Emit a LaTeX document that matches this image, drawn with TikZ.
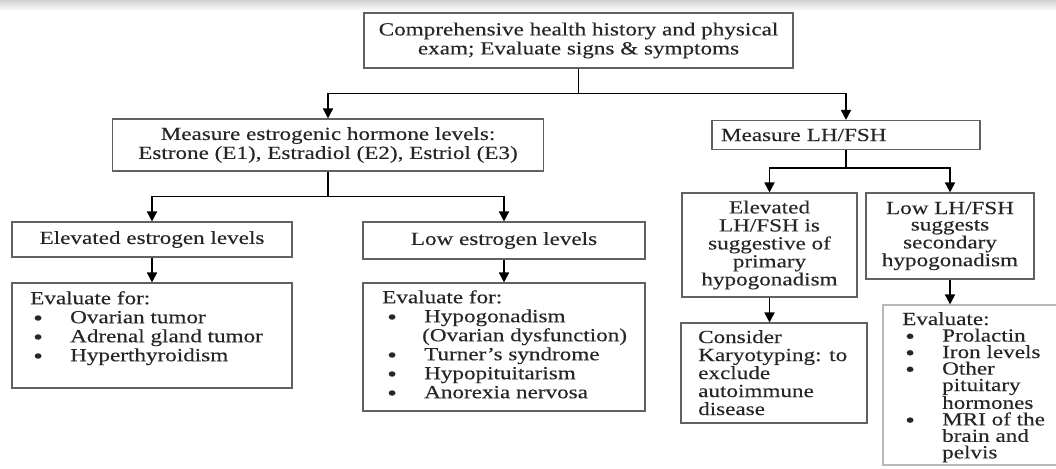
\documentclass[tikz,border=0pt]{standalone}
\usepackage{fontspec}
\setmainfont{Liberation Serif}[FakeStretch=1.25,FakeBold=0.25]
\usetikzlibrary{arrows.meta,calc}
\newcommand{\bul}{\hspace*{3pt}\makebox[37pt][l]{\raisebox{-0.25ex}{\scalebox{1.2}{\textbullet}}}}
\newcommand{\ind}{\hspace*{40pt}}
\begin{document}
\begin{tikzpicture}[x=1pt,y=-1pt,
  every node/.style={font=\fontsize{18.5}{19}\selectfont, text=black!85},
  box/.style={draw=black!62, line width=1.1pt, inner sep=0pt},
  conn/.style={line width=1.6pt, black},
  arr/.style={conn, -{Triangle[width=10pt,length=10pt]}},
  txt/.style={inner sep=0pt, align=left, anchor=north west}
]
\useasboundingbox (0,0) rectangle (1056,468);
\shade[top color=black!18, bottom color=white] (0,0) rectangle (1056,11);

% boxes
\node[box, minimum width=429pt, minimum height=55pt, align=center] (tb) at (578.5,40.5)
  {Comprehensive health history and physical\\exam; Evaluate signs \& symptoms};
\node[box, minimum width=431pt, minimum height=52pt, align=center] (me) at (328,145)
  {Measure estrogenic hormone levels:\\Estrone (E1), Estradiol (E2), Estriol (E3)};
\node[box, minimum width=268pt, minimum height=29pt, text width=250pt, align=left] (lh) at (846,135)
  {Measure LH/FSH};
\node[box, minimum width=280pt, minimum height=35pt] (ee) at (152,239.5) {Elevated estrogen levels};
\node[box, minimum width=282pt, minimum height=37pt] (le) at (504,240.5) {Low estrogen levels};
\node[box, minimum width=280pt, minimum height=105pt] (ev1) at (152,335.5) {};
\node[box, minimum width=282pt, minimum height=128pt] (ev2) at (504,347) {};
\node[box, minimum width=175pt, minimum height=104pt, align=center,
      font=\fontsize{18.5}{18}\selectfont] (elh) at (769.5,245)
  {Elevated\\LH/FSH is\\suggestive of\\primary\\hypogonadism};
\node[box, minimum width=168pt, minimum height=86pt, align=center,
      font=\fontsize{18.5}{16.5}\selectfont] (llh) at (950,236)
  {Low LH/FSH\\suggests\\secondary\\hypogonadism};
\node[box, minimum width=186pt, minimum height=100pt] (kar) at (774,373) {};
\node[box, draw=black!28, minimum width=177pt, minimum height=160pt] (ev3) at (971.5,385) {};

% box texts
\node[txt] (ev1t) at (30,291) {Evaluate for:\\\bul Ovarian tumor\\\bul Adrenal gland tumor\\\bul Hyperthyroidism};
\node[txt] (ev2t) at (382,290) {Evaluate for:\\\hspace*{2pt}\bul Hypogonadism\\\ind(Ovarian dysfunction)\\\hspace*{2pt}\bul Turner's syndrome\\\hspace*{2pt}\bul Hypopituitarism\\\hspace*{2pt}\bul Anorexia nervosa};
\node[txt, font=\fontsize{18.5}{18}\selectfont] (kart) at (698,330) {Consider\\Karyotyping: to\\exclude\\autoimmune\\disease};
\node[txt, font=\fontsize{18.5}{16.5}\selectfont] (ev3t) at (902,312) {Evaluate:\\\bul Prolactin\\\bul Iron levels\\\bul Other\\\ind pituitary\\\ind hormones\\\bul MRI of the\\\ind brain and\\\ind pelvis};

% connectors
\coordinate (j1) at ($(tb.south)+(0,25)$);
\draw[conn] (tb.south) -- (j1);
\draw[arr] (j1) -| (me.north);
\draw[arr] (j1) -| (lh.north);
\coordinate (j2) at ($(me.south)+(0,25)$);
\draw[conn] (me.south) -- (j2);
\draw[arr] (j2) -| (ee.north);
\draw[arr] (j2) -| (le.north);
\coordinate (j3) at ($(lh.south)+(0,18)$);
\draw[conn] (lh.south) -- (j3);
\draw[arr] (j3) -| (elh.north);
\draw[arr] (j3) -| (llh.north);
\draw[arr] (ee.south) -- (ev1.north);
\draw[arr] (le.south) -- (ev2.north);
\draw[arr] (elh.south) -- (elh.south |- kar.north);
\draw[arr] (llh.south) -- (llh.south |- ev3.north);
\end{tikzpicture}
\end{document}
